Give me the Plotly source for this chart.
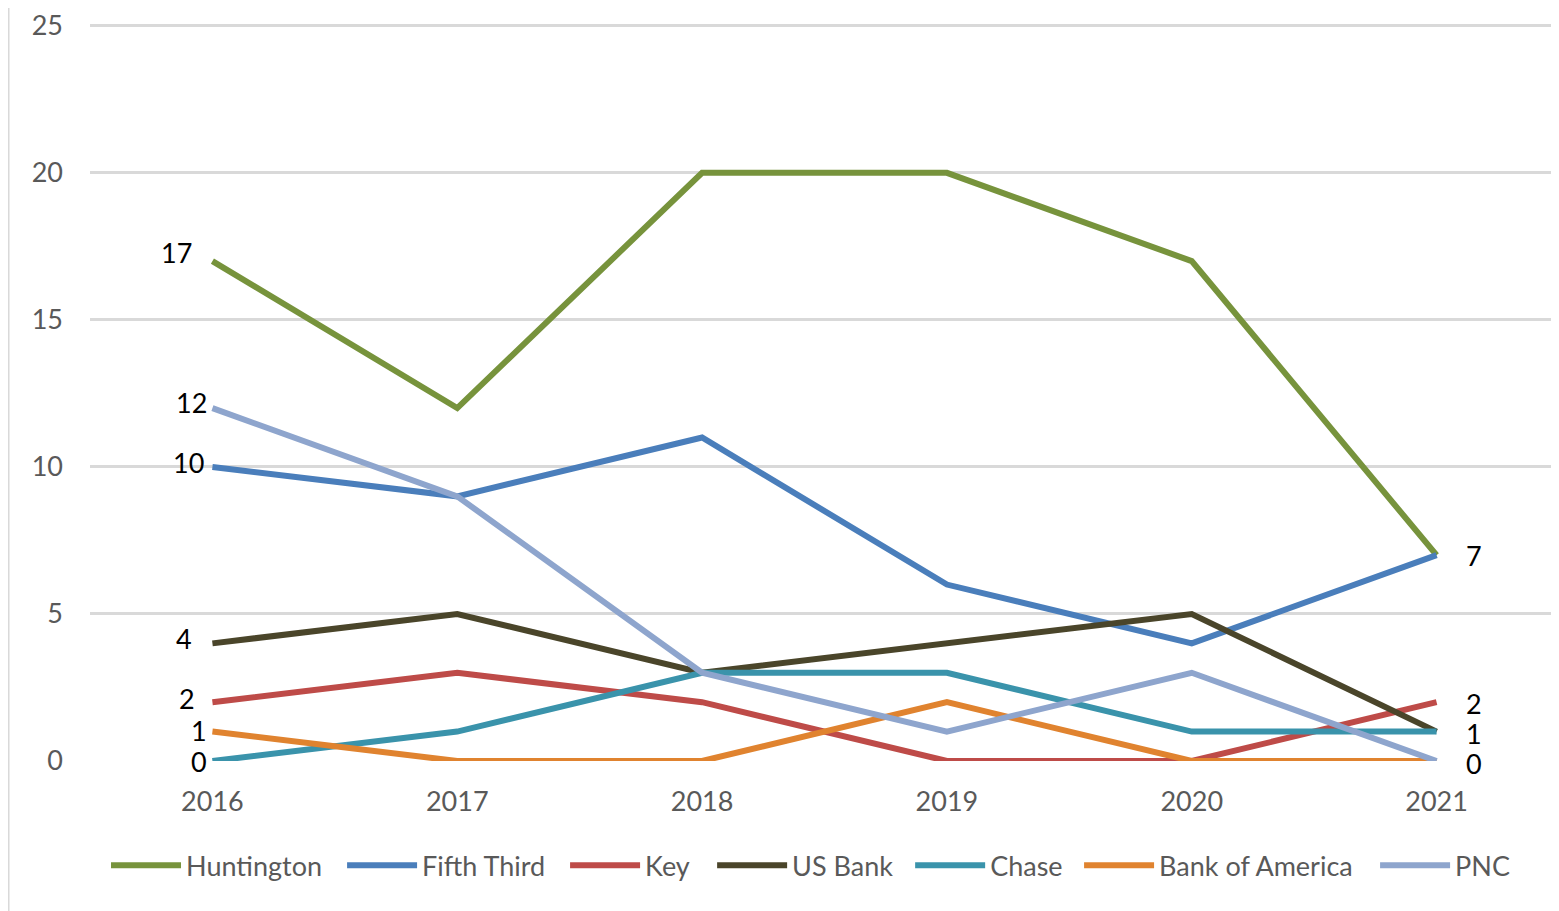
import plotly.graph_objects as go

years = ["2016", "2017", "2018", "2019", "2020", "2021"]
huntington = [17, 12, 20, 20, 17, 7]
fifth_third = [10, 9, 11, 6, 4, 7]
key = [2, 3, 2, 0, 0, 2]
us_bank = [4, 5, 3, 4, 5, 1]
chase = [0, 1, 3, 3, 1, 1]
bank_of_america = [1, 0, 0, 2, 0, 0]
pnc = [12, 9, 3, 1, 3, 0]

series = [
    ("Huntington", huntington, "#77933C"),
    ("Fifth Third", fifth_third, "#4A7EBB"),
    ("Key", key, "#BE4B48"),
    ("US Bank", us_bank, "#4A452A"),
    ("Chase", chase, "#3A93AB"),
    ("Bank of America", bank_of_america, "#E0832F"),
    ("PNC", pnc, "#8EA5CD"),
]

# legend entry left positions (paper x) — layout styling only
legend_x = [0.0109, 0.1716, 0.3234, 0.4235, 0.5583, 0.6733, 0.8748]

# labels: (series index, xshift, yshift)
left_labels = [
    (0, -18, 9), (6, -3, 6), (1, -6, 4), (3, -18, 5), (2, -15, 4), (5, -3, 1), (4, -3, 0),
]
right_labels = [(1, 27, 0), (2, 27, -1), (3, 27, -2), (6, 27, -2)]

label_font = dict(family="Lato, Open Sans, sans-serif", size=27, color="#000000")

fig = go.Figure()
for i, (name, vals, color) in enumerate(series):
    lg = "legend" if i == 0 else f"legend{i + 1}"
    fig.add_trace(go.Scatter(
        x=years, y=vals, name=name, mode="lines",
        line=dict(color=color, width=6),
        hoverinfo="skip", legend=lg,
    ))

first_idx = 0
last_idx = len(years) - 1
annotations = []
for si, xs, ys in left_labels:
    v = series[si][1][first_idx]
    annotations.append(dict(x=first_idx, y=v, xref="x", yref="y", text=str(v), showarrow=False,
                            xanchor="right", yanchor="middle", xshift=xs, yshift=ys,
                            font=label_font))
for si, xs, ys in right_labels:
    v = series[si][1][last_idx]
    annotations.append(dict(x=last_idx, y=v, xref="x", yref="y", text=str(v), showarrow=False,
                            xanchor="left", yanchor="middle", xshift=xs, yshift=ys,
                            font=label_font))

legend_layout = {}
for i, lx in enumerate(legend_x):
    key_name = "legend" if i == 0 else f"legend{i + 1}"
    legend_layout[key_name] = dict(
        orientation="h", x=lx, xanchor="left", y=-0.1408, yanchor="middle",
        font=dict(size=27, color="#595959"), itemwidth=70, bgcolor="rgba(0,0,0,0)",
    )

fig.update_layout(
    width=1551, height=903,
    margin=dict(l=82, r=0, t=7, b=150),
    paper_bgcolor="white", plot_bgcolor="white",
    font=dict(family="Lato, Open Sans, sans-serif", size=26, color="#595959"),
    showlegend=True,
    annotations=annotations,
    shapes=[dict(type="line", xref="paper", yref="paper", x0=-0.0558, x1=-0.0558,
                 y0=-0.3, y1=1.1, line=dict(color="#d9d9d9", width=3))],
    **legend_layout,
)
fig.update_xaxes(type="category", range=[-0.5, 5.5], showgrid=False, zeroline=False,
                 showline=False, ticks="", ticklabelstandoff=22,
                 tickfont=dict(size=27, color="#595959"))
fig.update_yaxes(range=[0, 25.3], tickvals=[0, 5, 10, 15, 20, 25], showgrid=True,
                 gridcolor="#d9d9d9", gridwidth=2.5, ticklabeloverflow="allow",
                 zeroline=False, showline=False, ticks="", ticklabelstandoff=26,
                 tickfont=dict(size=27, color="#595959"))

fig.write_html("out.html")
